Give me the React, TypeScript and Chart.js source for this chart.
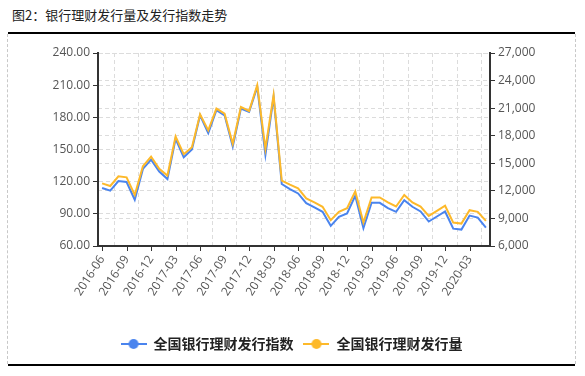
import React, { useEffect, useRef } from 'react';
import { Chart, registerables } from 'chart.js';
Chart.register(...registerables);

const months = [
  '2016-06','2016-07','2016-08','2016-09','2016-10','2016-11','2016-12','2017-01','2017-02','2017-03','2017-04','2017-05',
  '2017-06','2017-07','2017-08','2017-09','2017-10','2017-11','2017-12','2018-01','2018-02','2018-03','2018-04','2018-05',
  '2018-06','2018-07','2018-08','2018-09','2018-10','2018-11','2018-12','2019-01','2019-02','2019-03','2019-04','2019-05',
  '2019-06','2019-07','2019-08','2019-09','2019-10','2019-11','2019-12','2020-01','2020-02','2020-03','2020-04','2020-05',
];

const indexValues = [
  114.1, 111.6, 120.6, 119.7, 103.1, 131.9, 140.6, 129.4, 122.5, 160.0, 142.8, 150.0,
  181.9, 165.3, 186.6, 181.9, 152.8, 188.2, 185.0, 208.4, 145.0, 199.0, 117.8, 113.1,
  109.0, 100.0, 96.0, 91.9, 78.8, 87.2, 90.3, 106.9, 76.6, 100.3, 100.3, 95.3,
  91.9, 102.8, 96.6, 92.2, 82.8, 87.5, 92.2, 76.2, 75.3, 88.4, 86.5, 77.2,
];

const volumeValues = [
  12810, 12530, 13580, 13470, 11550, 14670, 15730, 14390, 13660, 17920, 15990, 16750,
  20330, 18580, 20950, 20400, 17120, 21130, 20690, 23500, 16580, 22410, 13110, 12670,
  12270, 11170, 10740, 10270, 8810, 9720, 10120, 11940, 8550, 11280, 11280, 10740,
  10300, 11550, 10740, 10300, 9280, 9830, 10380, 8550, 8440, 9900, 9720, 8730,
];

const seriesNames = ['全国银行理财发行指数', '全国银行理财发行量'];
const seriesColors = ['#4A84EE', '#FDB92A'];

const TICK_FONT = { family: '"Open Sans", "Liberation Sans", sans-serif', size: 12 };
const TICK_COLOR = '#555555';
const GRID_COLOR = '#dcdcdc';
const AXIS_COLOR = '#333333';

function legendIcon(color: string): HTMLCanvasElement {
  const c = document.createElement('canvas');
  c.width = 26;
  c.height = 12;
  const g = c.getContext('2d')!;
  g.strokeStyle = color;
  g.lineWidth = 2;
  g.beginPath();
  g.moveTo(0, 6);
  g.lineTo(26, 6);
  g.stroke();
  g.fillStyle = color;
  g.beginPath();
  g.arc(13, 6, 5, 0, Math.PI * 2);
  g.fill();
  return c;
}

const xTickMarks = {
  id: 'xTickMarks',
  afterDraw(chart: any) {
    const xs = chart.scales.x;
    const ctx = chart.ctx;
    ctx.save();
    ctx.strokeStyle = AXIS_COLOR;
    ctx.lineWidth = 1;
    ctx.beginPath();
    for (let i = 0; i < months.length; i += 3) {
      const x = Math.round(xs.getPixelForValue(i)) + 0.5;
      ctx.moveTo(x, xs.top);
      ctx.lineTo(x, xs.top + 5);
    }
    ctx.stroke();
    ctx.restore();
  },
};

export default function App() {
  const ref = useRef<HTMLCanvasElement>(null);
  useEffect(() => {
    const icons = seriesColors.map(legendIcon);
    const chart = new Chart(ref.current!, {
      type: 'line',
      data: {
        labels: months,
        datasets: [
          {
            label: seriesNames[0],
            data: indexValues,
            borderColor: seriesColors[0],
            backgroundColor: seriesColors[0],
            borderWidth: 2,
            pointRadius: 0,
            pointStyle: icons[0] as any,
            tension: 0,
            yAxisID: 'y',
            order: 2,
          },
          {
            label: seriesNames[1],
            data: volumeValues,
            borderColor: seriesColors[1],
            backgroundColor: seriesColors[1],
            borderWidth: 2,
            pointRadius: 0,
            pointStyle: icons[1] as any,
            tension: 0,
            yAxisID: 'y1',
            order: 1,
          },
        ],
      },
      options: {
        animation: false,
        responsive: false,
        devicePixelRatio: 1,
        layout: { padding: { top: 18, bottom: 2, left: 0, right: 0 } },
        plugins: {
          tooltip: { enabled: false },
          legend: {
            position: 'bottom',
            labels: {
              usePointStyle: true,
              pointStyleWidth: 26,
              padding: 10,
              color: '#222222',
              font: { family: '"Noto Sans CJK SC", sans-serif', size: 14, weight: 'bold' },
              sort: (a: any, b: any) => a.datasetIndex - b.datasetIndex,
            },
          },
        },
        scales: {
          x: {
            type: 'category',
            offset: true,
            afterFit: (s: any) => { s.height = 81; },
            grid: {
              offset: true,
              color: GRID_COLOR,
              lineWidth: 1,
              drawTicks: true,
              tickLength: 5,
              tickColor: 'rgba(0,0,0,0)',
            },
            border: { display: true, color: AXIS_COLOR, width: 2, dash: [4, 3] },
            ticks: {
              autoSkip: false,
              minRotation: 57,
              maxRotation: 57,
              padding: 2,
              color: TICK_COLOR,
              font: TICK_FONT,
              callback: (_v: any, i: number) => (i % 3 === 0 ? months[i] : null),
            },
          },
          y: {
            position: 'left',
            min: 60,
            max: 240,
            afterFit: (s: any) => { s.width = 90; },
            grid: {
              color: GRID_COLOR,
              tickColor: AXIS_COLOR,
              tickLength: 5,
              tickBorderDash: [],
            },
            border: { display: true, color: AXIS_COLOR, width: 2, dash: [4, 3] },
            ticks: {
              stepSize: 30,
              padding: 3,
              color: TICK_COLOR,
              font: TICK_FONT,
              callback: (v: any) => Number(v).toFixed(2),
            },
          },
          y1: {
            position: 'right',
            min: 6000,
            max: 27000,
            afterFit: (s: any) => { s.width = 85; },
            grid: {
              color: GRID_COLOR,
              tickColor: AXIS_COLOR,
              tickLength: 5,
              tickBorderDash: [],
              drawOnChartArea: true,
            },
            border: { display: true, color: AXIS_COLOR, width: 2, dash: [4, 3] },
            ticks: {
              stepSize: 3000,
              padding: 3,
              color: TICK_COLOR,
              font: TICK_FONT,
              callback: (v: any) => Number(v).toLocaleString('en-US'),
            },
          },
        },
      },
      plugins: [xTickMarks],
    } as any);
    return () => chart.destroy();
  }, []);

  return (
    <div style={{ position: 'fixed', left: 0, top: 0, width: 585, height: 376, background: '#fff', overflow: 'hidden' }}>
      <div
        style={{
          position: 'absolute', left: 12, top: 6, fontSize: 13, lineHeight: '18px', color: '#222',
          fontFamily: '"Noto Sans CJK SC", sans-serif', whiteSpace: 'nowrap',
        }}
      >
        图2：银行理财发行量及发行指数走势
      </div>
      <div style={{ position: 'absolute', left: 8, top: 32, width: 567, height: 2, background: '#000' }} />
      <div style={{ position: 'absolute', left: 7, top: 34, height: 330, borderLeft: '1px dashed #c8c8c8' }} />
      <div style={{ position: 'absolute', left: 575, top: 34, height: 330, borderLeft: '1px dashed #c8c8c8' }} />
      <div style={{ position: 'absolute', left: 8, top: 364, width: 567, height: 2, background: '#000' }} />
      <canvas ref={ref} width={567} height={328} style={{ position: 'absolute', left: 8, top: 35, width: 567, height: 328 }} />
    </div>
  );
}
